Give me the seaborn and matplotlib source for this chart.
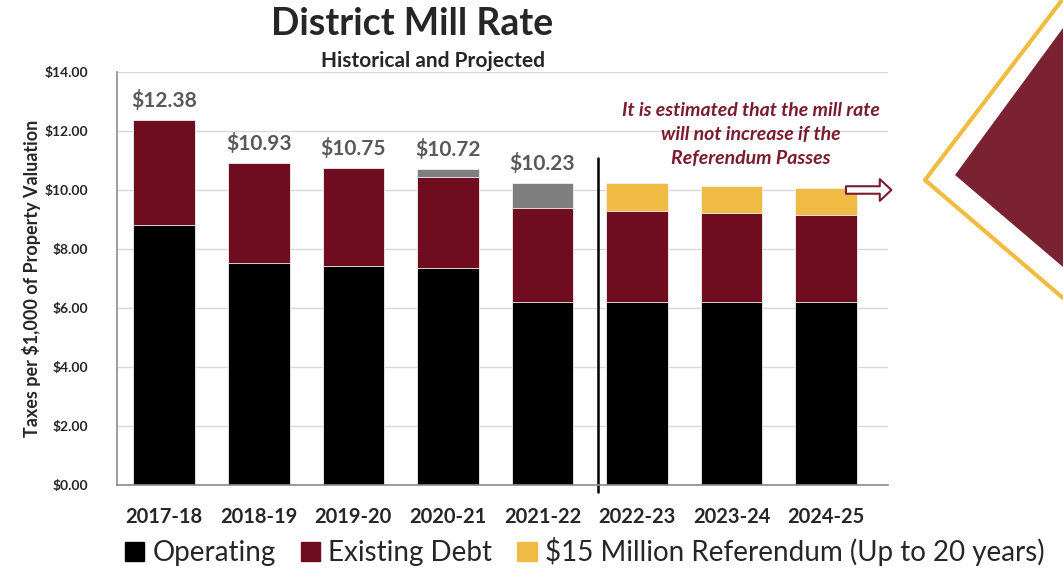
import pandas as pd
import seaborn as sns
import matplotlib.pyplot as plt
from matplotlib.patches import Polygon, Patch
from matplotlib.lines import Line2D

# Data
years = ["2017-18", "2018-19", "2019-20", "2020-21", "2021-22", "2022-23", "2023-24", "2024-25"]
operating = [8.81, 7.53, 7.42, 7.36, 6.20, 6.20, 6.20, 6.20]
existing_debt = [3.57, 3.40, 3.33, 3.08, 3.19, 3.09, 3.02, 2.95]
other_debt = [0.00, 0.00, 0.00, 0.28, 0.84, 0.00, 0.00, 0.00]
referendum = [0.00, 0.00, 0.00, 0.00, 0.00, 0.95, 0.92, 0.92]
total_labels = ["$12.38", "$10.93", "$10.75", "$10.72", "$10.23"]
y_ticks = [0, 2, 4, 6, 8, 10, 12, 14]

C_OP = "#000000"
C_DEBT = "#700c1f"
C_OTHER = "#7f7f7f"
C_REF = "#f0bb42"
C_ANNOT = "#7b1c2e"

sns.set_theme(style="white")
plt.rcParams["font.family"] = ["Lato", "DejaVu Sans"]

df = pd.DataFrame({"year": years, "operating": operating, "debt": existing_debt,
                   "other": other_debt, "ref": referendum})
df["lvl_debt"] = df["operating"] + df["debt"]
df["lvl_other"] = df["lvl_debt"] + df["other"]
df["lvl_ref"] = df["lvl_other"] + df["ref"]

fig = plt.figure(figsize=(10.63, 5.69), dpi=100)
ax = fig.add_axes([0.110, 0.1476, 0.725, 0.7259])

# stacked bars: draw tallest cumulative level first
for col, color in [("lvl_ref", C_REF), ("lvl_other", C_OTHER), ("lvl_debt", C_DEBT), ("operating", C_OP)]:
    sns.barplot(data=df, x="year", y=col, color=color, width=0.65, order=years, saturation=1,
                edgecolor="#f2f2f2", linewidth=0.6, ax=ax, errorbar=None)

ax.set_xlim(-0.5, 7.65)
ax.set_ylim(0, 14)
ax.set_yticks(y_ticks)
ax.set_yticklabels([f"${v:.2f}" for v in y_ticks], fontsize=10, fontweight="bold")
ax.tick_params(axis="x", labelsize=14.5, pad=10)
for lab in ax.get_xticklabels():
    lab.set_fontweight("bold")
ax.tick_params(axis="y", pad=15)
ax.yaxis.grid(True, color="#d9d9d9", linewidth=1)
ax.set_axisbelow(True)
ax.set_xlabel("")
ax.set_ylabel("Taxes per $1,000 of Property Valuation", fontsize=13, fontweight="bold", labelpad=2)
for s in ["top", "right"]:
    ax.spines[s].set_visible(False)
for s in ["left", "bottom"]:
    ax.spines[s].set_color("#8c8c8c")
    ax.spines[s].set_linewidth(1.2)

# total labels above historical bars
for i, lab in enumerate(total_labels):
    ax.text(i, df["lvl_ref"][i] + 0.3, lab, ha="center", va="bottom",
            fontsize=15, fontweight="bold", color="#595959")

# divider between actual and projected years
ax.plot([4.59, 4.59], [-0.24, 11.08], color="black", linewidth=1.8, clip_on=False)

ax.text(6.2, 11.88, "It is estimated that the mill rate\nwill not increase if the\nReferendum Passes",
        ha="center", va="center", fontsize=14, fontweight="bold", style="italic",
        color=C_ANNOT, linespacing=1.5)

ax.annotate("", xy=(7.72, 10.0), xytext=(7.18, 10.0), annotation_clip=False,
            arrowprops=dict(arrowstyle="simple,head_length=0.7,head_width=1.3,tail_width=0.45",
                            fc="white", ec=C_ANNOT, lw=1.5))

fig.text(0.388, 0.958, "District Mill Rate", ha="center", va="center", fontsize=27, fontweight="bold")
fig.text(0.407, 0.893, "Historical and Projected", ha="center", va="center", fontsize=15, fontweight="bold")

# decorative chevron on the right
def px(pts):
    return [(x / 1063, 1 - y / 569) for x, y in pts]

fig.add_artist(Polygon(px([(1063, 28), (955, 175), (1063, 267)]), closed=True,
                       transform=fig.transFigure, fc="#7b2232", ec="none"))
chev = px([(1062, 0), (925, 180), (1063, 298)])
fig.add_artist(Line2D([p[0] for p in chev], [p[1] for p in chev],
                      transform=fig.transFigure, color="#f0bc41", linewidth=3))

handles = [Patch(color=C_OP, label="Operating"),
           Patch(color=C_DEBT, label="Existing Debt"),
           Patch(color=C_REF, label="$15 Million Referendum (Up to 20 years)")]
fig.legend(handles=handles, loc="center", bbox_to_anchor=(0.55, 0.03), ncol=3, frameon=False,
           fontsize=20, handlelength=0.7, handleheight=0.7, handletextpad=0.3, columnspacing=0.9)

fig.savefig("out.png", dpi=100)
